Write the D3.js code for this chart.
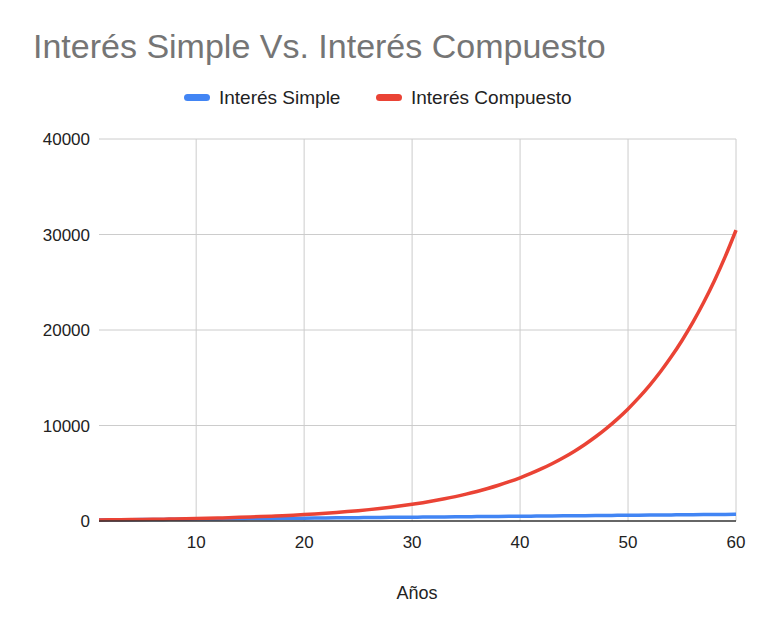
<!DOCTYPE html>
<html><head><meta charset="utf-8">
<script src="https://cdn.jsdelivr.net/npm/d3@7"></script>
<style>body{margin:0;background:#fff;font-family:"Liberation Sans",Arial,sans-serif}</style>
</head><body><svg id="c" width="768" height="636"></svg>
<script>
const years = d3.range(1, 61);
const simple = [110,120,130,140,150,160,170,180,190,200,210,220,230,240,250,260,270,280,290,300,310,320,330,340,350,360,370,380,390,400,410,420,430,440,450,460,470,480,490,500,510,520,530,540,550,560,570,580,590,600,610,620,630,640,650,660,670,680,690,700];
const compound = [110,121,133.1,146.4,161.1,177.2,194.9,214.4,235.8,259.4,285.3,313.8,345.2,379.7,417.7,459.5,505.4,556,611.6,672.7,740,814,895.4,985,1083.5,1191.8,1311,1442.1,1586.3,1744.9,1919.4,2111.4,2322.5,2554.8,2810.2,3091.3,3400.4,3740.4,4114.5,4526,4978.5,5476.4,6024,6626.4,7289,8017.9,8819.7,9701.7,10671.9,11739.1,12913,14204.3,15624.7,17187.2,18905.9,20796.5,22876.2,25163.8,27680.2,30448.2];
const xTicks = [10,20,30,40,50,60];
const yTicks = [0,10000,20000,30000,40000];
const seriesNames = ["Interés Simple","Interés Compuesto"];
const colors = ["#4285f4","#ea4335"];

const svg = d3.select("#c");
const x = d3.scaleLinear().domain([1,60]).range([99,736]);
const y = d3.scaleLinear().domain([0,40000]).range([521,139]);

svg.append("text").attr("x",33).attr("y",58).attr("font-size",34).attr("fill","#757575").text("Interés Simple Vs. Interés Compuesto");

svg.append("g").selectAll("line").data(yTicks.slice(1)).join("line")
  .attr("x1",99).attr("x2",736).attr("y1",d=>y(d)).attr("y2",d=>y(d)).attr("stroke","#ccc");
svg.append("g").selectAll("line").data(xTicks).join("line")
  .attr("x1",d=>x(d)).attr("x2",d=>x(d)).attr("y1",139).attr("y2",521).attr("stroke","#ccc");

svg.append("g").selectAll("text").data(yTicks).join("text")
  .attr("x",90).attr("y",d=>y(d)+6).attr("text-anchor","end").attr("font-size",17).attr("fill","#222").text(d=>d);
svg.append("g").selectAll("text").data(xTicks).join("text")
  .attr("x",d=>x(d)).attr("y",548).attr("text-anchor","middle").attr("font-size",17).attr("fill","#222").text(d=>d);

const line = d3.line().x((d,i)=>x(years[i])).y(d=>y(d)).curve(d3.curveMonotoneX);
[simple, compound].forEach((s,k)=>{
  svg.append("path").attr("d",line(s)).attr("fill","none").attr("stroke",colors[k]).attr("stroke-width",3.5);
});
svg.append("line").attr("x1",99).attr("x2",736).attr("y1",y(0)).attr("y2",y(0)).attr("stroke","#333").attr("stroke-width",1.5);

svg.append("text").attr("x",417).attr("y",599).attr("text-anchor","middle").attr("font-size",18).attr("fill","#222").text("Años");

const lx = [184, 376];
seriesNames.forEach((n,k)=>{
  svg.append("rect").attr("x",lx[k]).attr("y",94).attr("width",26).attr("height",7).attr("rx",3.5).attr("fill",colors[k]);
  svg.append("text").attr("x",lx[k]+35).attr("y",104).attr("font-size",19).attr("fill","#222").text(n);
});
</script></body></html>
